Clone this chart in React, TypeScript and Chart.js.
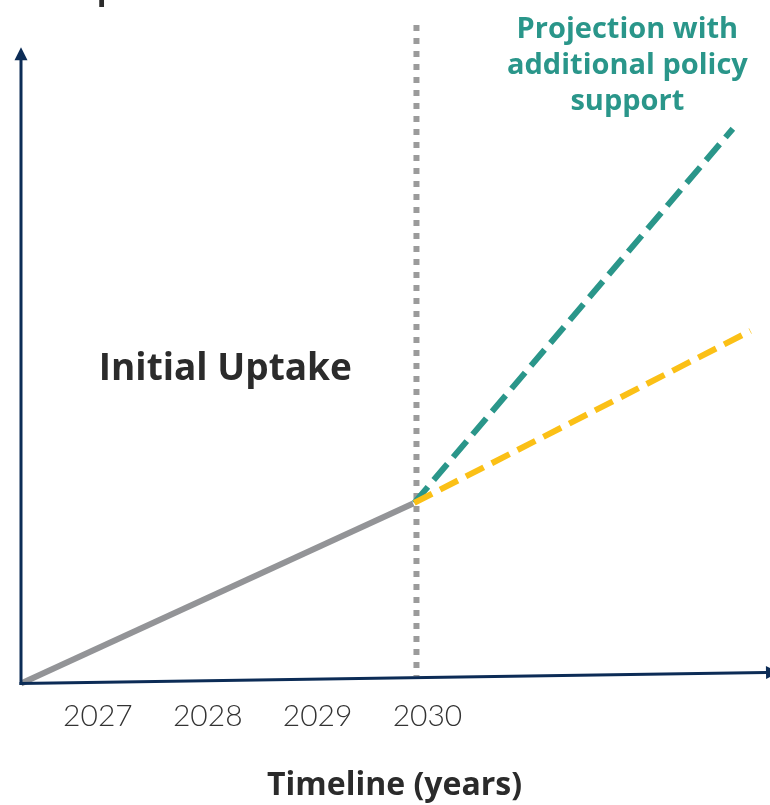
import React, { useEffect, useRef } from "react";
import { Chart, registerables } from "chart.js";

Chart.register(...registerables);

// ---- data (years on x, uptake index on y) ----
const tickYears = [2027, 2028, 2029, 2030];
const historyX = [2026.3, 2029.87];
const historyY = [0, 28.5];
const policyX = [2029.88, 2032.78];
const policyY = [28.6, 87.8];
const baselineX = [2029.88, 2032.94];
const baselineY = [28.6, 55.8];
const markerX = [2029.9, 2029.9];
const markerY = [104.2, 1.2];
const xAxisLineX = [2026.3, 2033.1];
const xAxisLineY = [0, 1.75];
const yAxisLineX = [2026.3, 2026.3];
const yAxisLineY = [0, 100.7];

const X_MIN = 2026.3;
const X_MAX = 2033.1;
const Y_MIN = 0;
const Y_MAX = 105;

// ---- annotation texts ----
const initialLabel = "Initial Uptake";
const initialAt = [2028.16, 48.1];
const policyLines = ["Projection with", "additional policy", "support"];
const policyAtX = 2031.82;
const policyAtY = [102.1, 96.4, 90.7];
const yTitle = "Uptake";
const yTitleAt = [2027.3, 108.3];

const NAVY = "#0c2c56";
const TEAL = "#2a968a";
const YELLOW = "#fbc016";
const GRAY = "#939497";
const DOT_GRAY = "#9b9b9b";
const DARK = "#2b2b2b";

const toPoints = (xs: number[], ys: number[]) => xs.map((x, i) => ({ x, y: ys[i] }));

const decorPlugin = {
  id: "decor",
  afterDatasetsDraw(chart: any) {
    const { ctx } = chart;
    const xs = chart.scales.x;
    const ys = chart.scales.y;
    const px = (v: number) => xs.getPixelForValue(v);
    const py = (v: number) => ys.getPixelForValue(v);
    ctx.save();
    ctx.strokeStyle = NAVY;
    ctx.fillStyle = NAVY;
    ctx.lineWidth = 3;
    ctx.lineCap = "butt";

    // y axis with arrow
    const yx0 = px(yAxisLineX[0]);
    const yy0 = py(yAxisLineY[0]) + 1.5;
    const yx1 = px(yAxisLineX[1]);
    const yy1 = py(yAxisLineY[1]);
    ctx.beginPath();
    ctx.moveTo(yx0, yy0);
    ctx.lineTo(yx1, yy1 + 10);
    ctx.stroke();
    ctx.beginPath();
    ctx.moveTo(yx1, yy1);
    ctx.lineTo(yx1 - 6.5, yy1 + 13);
    ctx.lineTo(yx1 + 6.5, yy1 + 13);
    ctx.closePath();
    ctx.fill();

    // x axis (slightly rising) with arrow
    const xx0 = px(xAxisLineX[0]) - 1.5;
    const xy0 = py(xAxisLineY[0]);
    const xx1 = px(xAxisLineX[1]);
    const xy1 = py(xAxisLineY[1]);
    const dx = xx1 - xx0;
    const dy = xy1 - xy0;
    const len = Math.hypot(dx, dy);
    const ux = dx / len;
    const uy = dy / len;
    const baseX = xx1 - ux * 2;
    const baseY = xy1 - uy * 2;
    ctx.beginPath();
    ctx.moveTo(xx0, xy0);
    ctx.lineTo(baseX, baseY);
    ctx.stroke();
    const tipX = baseX + ux * 13;
    const tipY = baseY + uy * 13;
    ctx.beginPath();
    ctx.moveTo(tipX, tipY);
    ctx.lineTo(baseX - uy * 6.5, baseY + ux * 6.5);
    ctx.lineTo(baseX + uy * 6.5, baseY - ux * 6.5);
    ctx.closePath();
    ctx.fill();
    ctx.restore();
  },
  afterDraw(chart: any) {
    const { ctx } = chart;
    const xs = chart.scales.x;
    const ys = chart.scales.y;
    const px = (v: number) => xs.getPixelForValue(v);
    const py = (v: number) => ys.getPixelForValue(v);
    ctx.save();
    ctx.textBaseline = "alphabetic";
    ctx.textAlign = "center";

    ctx.fillStyle = DARK;
    ctx.font = "bold 37px 'Open Sans'";
    ctx.fillText(initialLabel, px(initialAt[0]), py(initialAt[1]));

    ctx.font = "bold 32px 'Open Sans'";
    ctx.fillText(yTitle, px(yTitleAt[0]), py(yTitleAt[1]));

    ctx.fillStyle = TEAL;
    ctx.font = "bold 29px 'Open Sans'";
    policyLines.forEach((line, i) => {
      ctx.fillText(line, px(policyAtX), py(policyAtY[i]));
    });
    ctx.restore();
  },
};

export default function App() {
  const canvasRef = useRef<HTMLCanvasElement | null>(null);

  useEffect(() => {
    if (!canvasRef.current) return;
    const chart = new Chart(canvasRef.current, {
      type: "line",
      data: {
        datasets: [
          {
            label: "Baseline projection",
            data: toPoints(baselineX, baselineY),
            borderColor: YELLOW,
            borderWidth: 6,
            borderDash: [20, 9],
            borderCapStyle: "butt",
            pointRadius: 0,
            tension: 0,
            clip: false,
            order: 0,
          },
          {
            label: "Projection with additional policy support",
            data: toPoints(policyX, policyY),
            borderColor: TEAL,
            borderWidth: 6,
            borderDash: [21, 9],
            borderCapStyle: "butt",
            pointRadius: 0,
            tension: 0,
            clip: false,
            order: 1,
          },
          {
            label: "Initial uptake",
            data: toPoints(historyX, historyY),
            borderColor: GRAY,
            borderWidth: 6,
            borderCapStyle: "butt",
            pointRadius: 0,
            tension: 0,
            clip: false,
            order: 2,
          },
          {
            label: "2030 marker",
            data: toPoints(markerX, markerY),
            borderColor: DOT_GRAY,
            borderWidth: 6,
            borderDash: [6, 7],
            borderCapStyle: "butt",
            pointRadius: 0,
            tension: 0,
            clip: false,
            order: 3,
          },
        ],
      } as any,
      options: {
        animation: false,
        responsive: true,
        maintainAspectRatio: false,
        layout: { padding: { left: 21, right: 2, top: 20, bottom: 0 } },
        plugins: {
          legend: { display: false },
          tooltip: { enabled: false },
        },
        events: [],
        scales: {
          x: {
            type: "linear",
            min: X_MIN,
            max: X_MAX,
            afterBuildTicks: (scale: any) => {
              scale.ticks = tickYears.map((v) => ({ value: v }));
            },
            ticks: {
              callback: (v: any) => String(v),
              font: { family: "Lato", size: 30, weight: 300 as any },
              color: "#333333",
              padding: 15,
              maxRotation: 0,
              autoSkip: false,
            },
            grid: { display: false, drawTicks: false },
            border: { display: false },
            title: {
              display: true,
              text: "Timeline (years)",
              font: { family: "Open Sans", size: 32, weight: "bold" },
              color: DARK,
              padding: { top: 17, bottom: 0 },
            },
          },
          y: {
            type: "linear",
            display: false,
            min: Y_MIN,
            max: Y_MAX,
          },
        },
      } as any,
      plugins: [decorPlugin],
    });
    return () => chart.destroy();
  }, []);

  return (
    <div style={{ position: "absolute", left: 0, top: 0, width: 770, height: 805, background: "#ffffff" }}>
      <canvas ref={canvasRef} />
    </div>
  );
}
